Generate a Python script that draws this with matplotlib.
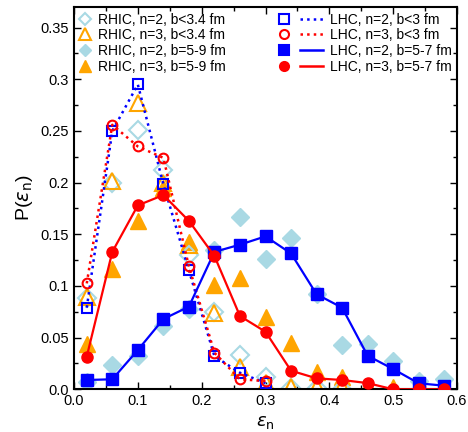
import matplotlib
matplotlib.use('Agg')
import matplotlib.pyplot as plt
from matplotlib.lines import Line2D
from matplotlib.legend_handler import HandlerTuple
from matplotlib.ticker import MultipleLocator

plt.rcParams['font.family'] = ['Liberation Sans', 'DejaVu Sans']

# bin centres of epsilon_n
eps = [0.02, 0.06, 0.10, 0.14, 0.18, 0.22, 0.26, 0.30,
       0.34, 0.38, 0.42, 0.46, 0.50, 0.54, 0.58]

# RHIC (symbols only)
rhic_n2_central = [0.088, 0.200, 0.251, 0.212, 0.130, 0.075, 0.033, 0.012,
                   0.001, 0.001, 0.000]
rhic_n3_central = [0.089, 0.202, 0.277, 0.200, 0.140, 0.0735, 0.022, 0.006,
                   0.0025, 0.0025, 0.0025]
rhic_n2_mid = [0.007, 0.024, 0.032, 0.061, 0.078, 0.135, 0.167, 0.126,
               0.146, 0.092, 0.043, 0.044, 0.027, 0.008, 0.010]
rhic_n3_mid = [0.044, 0.116, 0.163, 0.195, 0.143, 0.101, 0.108, 0.070,
               0.045, 0.017, 0.012, 0.003, 0.002, 0.001, 0.001]

# LHC (symbols + lines)
lhc_n2_central = [0.079, 0.250, 0.295, 0.1985, 0.115, 0.032, 0.016, 0.006]
lhc_n3_central = [0.1025, 0.256, 0.235, 0.224, 0.119, 0.0354, 0.0097, 0.008]
lhc_n2_mid = [0.009, 0.0097, 0.038, 0.068, 0.080, 0.133, 0.140, 0.148,
              0.1315, 0.092, 0.079, 0.0325, 0.0196, 0.0058, 0.0035]
lhc_n3_mid = [0.0317, 0.133, 0.178, 0.188, 0.163, 0.129, 0.0709, 0.0557,
              0.018, 0.0106, 0.009, 0.006, 0.0, 0.0, 0.0]

xticks = [0.0, 0.1, 0.2, 0.3, 0.4, 0.5, 0.6]
xtick_labels = ['0.0', '0.1', '0.2', '0.3', '0.4', '0.5', '0.6']
yticks = [0.0, 0.05, 0.1, 0.15, 0.2, 0.25, 0.3, 0.35]
ytick_labels = ['0.0', '0.05', '0.1', '0.15', '0.2', '0.25', '0.3', '0.35']

lblue = '#a9d9e4'
orange = '#ffa500'

fig = plt.figure(figsize=(4.68, 4.32), dpi=100)
ax = fig.add_axes([74 / 468, 1 - 389.3 / 432, (457 - 74) / 468, (389.3 - 7) / 432])

# RHIC
ax.plot(eps[:len(rhic_n2_mid)], rhic_n2_mid, 'D', color=lblue, ms=9, mec=lblue, zorder=2)
ax.plot(eps[:len(rhic_n3_mid)], rhic_n3_mid, '^', color=orange, ms=11, mec=orange, zorder=2)
ax.plot(eps[:len(rhic_n2_central)], rhic_n2_central, 'D', color=lblue, ms=9,
        mfc='none', mew=1.5, zorder=2)
ax.plot(eps[:len(rhic_n3_central)], rhic_n3_central, '^', color=orange, ms=11,
        mfc='none', mew=1.5, zorder=2)

# LHC
ax.plot(eps[:len(lhc_n2_central)], lhc_n2_central, 's', color='blue', ms=7,
        mfc='none', mew=1.5, ls=':', lw=1.8, zorder=3)
ax.plot(eps[:len(lhc_n3_central)], lhc_n3_central, 'o', color='red', ms=7,
        mfc='none', mew=1.5, ls=':', lw=1.8, zorder=3)
ax.plot(eps[:len(lhc_n2_mid)], lhc_n2_mid, 's', color='blue', ms=8, ls='-', lw=1.6, zorder=4)
ax.plot(eps[:len(lhc_n3_mid)], lhc_n3_mid, 'o', color='red', ms=8, ls='-', lw=1.6, zorder=4)

ax.set_xlim(0, 0.6)
ax.set_ylim(0, 0.37)
ax.set_xticks(xticks)
ax.set_xticklabels(xtick_labels)
ax.set_yticks(yticks)
ax.set_yticklabels(ytick_labels)
ax.xaxis.set_minor_locator(MultipleLocator(0.05))
ax.yaxis.set_minor_locator(MultipleLocator(0.025))
ax.tick_params(which='both', direction='in', top=True, right=True, labelsize=10.5)
ax.tick_params(which='major', length=5, width=1)
ax.tick_params(which='minor', length=3, width=1)
for s in ax.spines.values():
    s.set_linewidth(1.5)

ax.set_xlabel(r'$\epsilon_{\rm n}$', fontsize=13, labelpad=4)
ax.set_ylabel(r'P($\epsilon_{\rm n}$)', fontsize=14, labelpad=4)

# left legend: RHIC
h_rhic = [
    Line2D([], [], marker='D', ls='none', color=lblue, mfc='none', mew=1.5, ms=6.5),
    Line2D([], [], marker='^', ls='none', color=orange, mfc='none', mew=1.5, ms=8),
    Line2D([], [], marker='D', ls='none', color=lblue, ms=6.5),
    Line2D([], [], marker='^', ls='none', color=orange, ms=8),
]
l_rhic = ['RHIC, n=2, b<3.4 fm', 'RHIC, n=3, b<3.4 fm',
          'RHIC, n=2, b=5-9 fm', 'RHIC, n=3, b=5-9 fm']
leg1 = ax.legend(h_rhic, l_rhic, loc='upper left', frameon=False, fontsize=10,
                 handlelength=0.8, handletextpad=0.5, labelspacing=0.12,
                 borderaxespad=0.2, borderpad=0.2)
ax.add_artist(leg1)

# right legend: LHC
def pair(marker, color, filled, ls):
    m = Line2D([], [], marker=marker, ls='none', color=color, ms=6.5,
               mfc=color if filled else 'none', mew=1.5)
    ln = Line2D([], [], ls=ls, color=color, lw=1.8)
    return (m, ln)

h_lhc = [pair('s', 'blue', False, ':'), pair('o', 'red', False, ':'),
         pair('s', 'blue', True, '-'), pair('o', 'red', True, '-')]
l_lhc = ['LHC, n=2, b<3 fm', 'LHC, n=3, b<3 fm',
         'LHC, n=2, b=5-7 fm', 'LHC, n=3, b=5-7 fm']
ax.legend(h_lhc, l_lhc, loc='upper right', frameon=False, fontsize=10,
          handler_map={tuple: HandlerTuple(ndivide=None, pad=0.3)},
          handlelength=3.6, handletextpad=0.5, labelspacing=0.12,
          borderaxespad=0.2, borderpad=0.2)

fig.savefig('out.png', dpi=100)
